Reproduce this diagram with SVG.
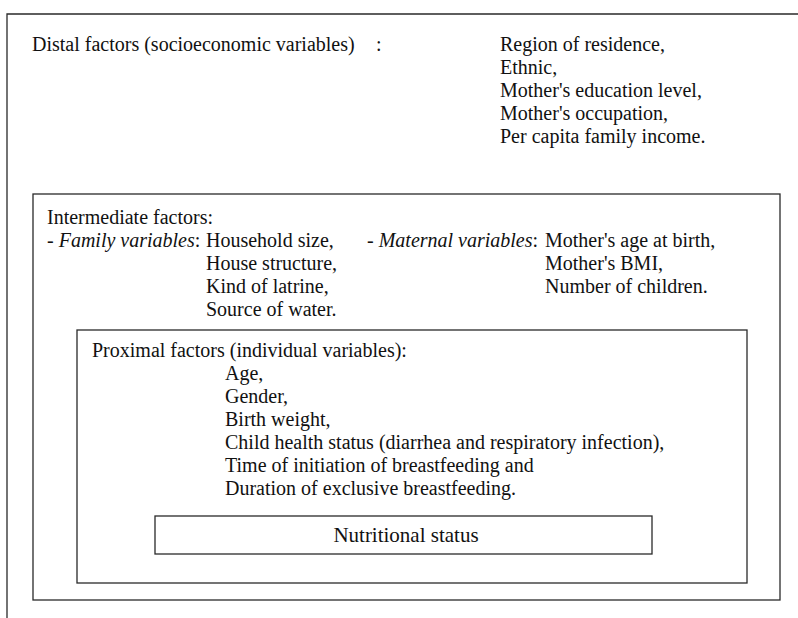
<svg xmlns="http://www.w3.org/2000/svg" width="798" height="618" viewBox="0 0 798 618">
<style>
text{font-family:"Liberation Serif","Times New Roman",serif;font-size:20px;fill:#111}
.i{font-style:italic}
.box{fill:none;stroke:#2a2a2a;stroke-width:1.3}
</style>
<rect width="798" height="618" fill="#fff"/>
<g id="distal">
<path class="box" d="M7,618 V14 H798"/>
<text x="32" y="51">Distal factors (socioeconomic variables)</text>
<text x="376" y="51">:</text>
<text x="500" y="51">Region of residence,</text>
<text x="500" y="74">Ethnic,</text>
<text x="500" y="97">Mother's education level,</text>
<text x="500" y="120">Mother's occupation,</text>
<text x="500" y="143">Per capita family income.</text>
</g>
<g id="intermediate">
<rect class="box" x="33" y="194" width="747" height="406"/>
<text x="47" y="224">Intermediate factors:</text>
<text x="47" y="247"><tspan class="i">- Family variables</tspan>:</text>
<text x="206" y="247">Household size,</text>
<text x="206" y="270">House structure,</text>
<text x="206" y="293">Kind of latrine,</text>
<text x="206" y="316">Source of water.</text>
<text x="367" y="247"><tspan class="i">- Maternal variables</tspan>:</text>
<text x="545" y="247">Mother's age at birth,</text>
<text x="545" y="270">Mother's BMI,</text>
<text x="545" y="293">Number of children.</text>
</g>
<g id="proximal">
<rect class="box" x="77" y="330" width="670" height="253"/>
<text x="92" y="357">Proximal factors (individual variables):</text>
<text x="225" y="380">Age,</text>
<text x="225" y="403">Gender,</text>
<text x="225" y="426">Birth weight,</text>
<text x="225" y="449">Child health status (diarrhea and respiratory infection),</text>
<text x="225" y="472">Time of initiation of breastfeeding and</text>
<text x="225" y="495">Duration of exclusive breastfeeding.</text>
</g>
<g id="nutritional">
<rect class="box" x="155" y="516" width="497" height="38"/>
<text x="406" y="542" text-anchor="middle" style="font-size:21px">Nutritional status</text>
</g>
<g id="connectors"></g>
</svg>
